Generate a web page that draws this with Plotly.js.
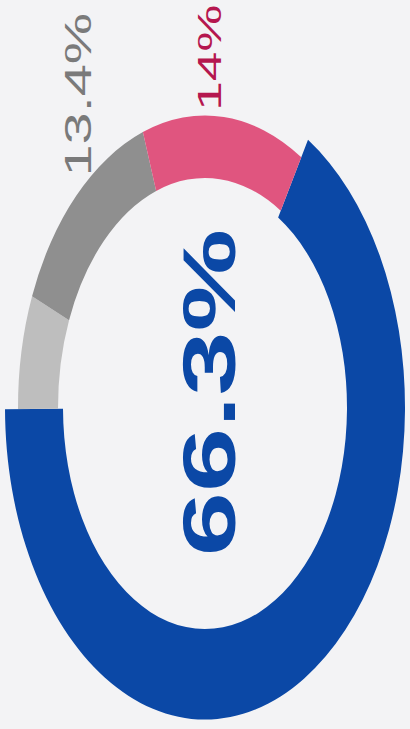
<!DOCTYPE html>
<html><head><meta charset="utf-8">
<script src="https://cdn.plot.ly/plotly-3.0.1.min.js"></script>
<style>
html,body{margin:0;padding:0;background:#f3f3f5;overflow:hidden;}
#wrap{width:410px;height:729px;overflow:hidden;}
#chart{width:410px;height:467px;transform:scaleY(1.561);transform-origin:0 0;}
</style></head><body><div id="wrap"><div id="chart"></div></div>
<script>
// data
const labels = ["Blue", "Light gray", "Dark gray", "Pink"];
const values = [66.3, 6.3, 13.4, 14];
const valueText = ["66.3%", "", "13.4%", "14%"];

// styling
const W = 410, H = 467;
const cx = 205, cy = 261;           // centre, unscaled px
const rBlueOut = 200, rBlueIn = 142;
const rOut = 187, rIn = 147;
const blue = "#0b48a6", pink = "#e0557f", dgray = "#8f8f8f", lgray = "#bebebe";
const clear = "rgba(0,0,0,0)";

function dom(r) {
  return {
    x: [(cx - r) / W, (cx + r) / W],
    y: [1 - (cy + r) / H, 1 - (cy - r) / H]
  };
}

const common = {
  type: "pie", labels: labels, values: values, sort: false,
  direction: "clockwise", rotation: 31, textinfo: "none",
  hoverinfo: "skip", showlegend: false
};

const traceBlue = Object.assign({}, common, {
  domain: dom(rBlueOut), hole: rBlueIn / rBlueOut,
  marker: {colors: [blue, clear, clear, clear], line: {width: 0}}
});
const traceRest = Object.assign({}, common, {
  domain: dom(rOut), hole: rIn / rOut,
  marker: {colors: [clear, lgray, dgray, pink], line: {width: 0}}
});

const annotations = [
  {text: "<b>" + valueText[0] + "</b>", x: 0.51, y: 0.462, font: {size: 74, color: blue}},
  {text: valueText[2], x: 0.19, y: 0.871, font: {size: 37, color: "#7a7a7a"}},
  {text: valueText[3], x: 0.51, y: 0.921, font: {size: 34, color: "#b5174f"}}
].map(a => Object.assign({
  xref: "paper", yref: "paper", showarrow: false, textangle: -90,
  xanchor: "center", yanchor: "middle"
}, a, {font: Object.assign({family: "Liberation Sans, Arial, sans-serif"}, a.font)}));

Plotly.newPlot("chart", [traceBlue, traceRest], {
  width: W, height: H,
  margin: {l: 0, r: 0, t: 0, b: 0},
  paper_bgcolor: "#f3f3f5",
  annotations: annotations
}, {staticPlot: true});
</script></body></html>
